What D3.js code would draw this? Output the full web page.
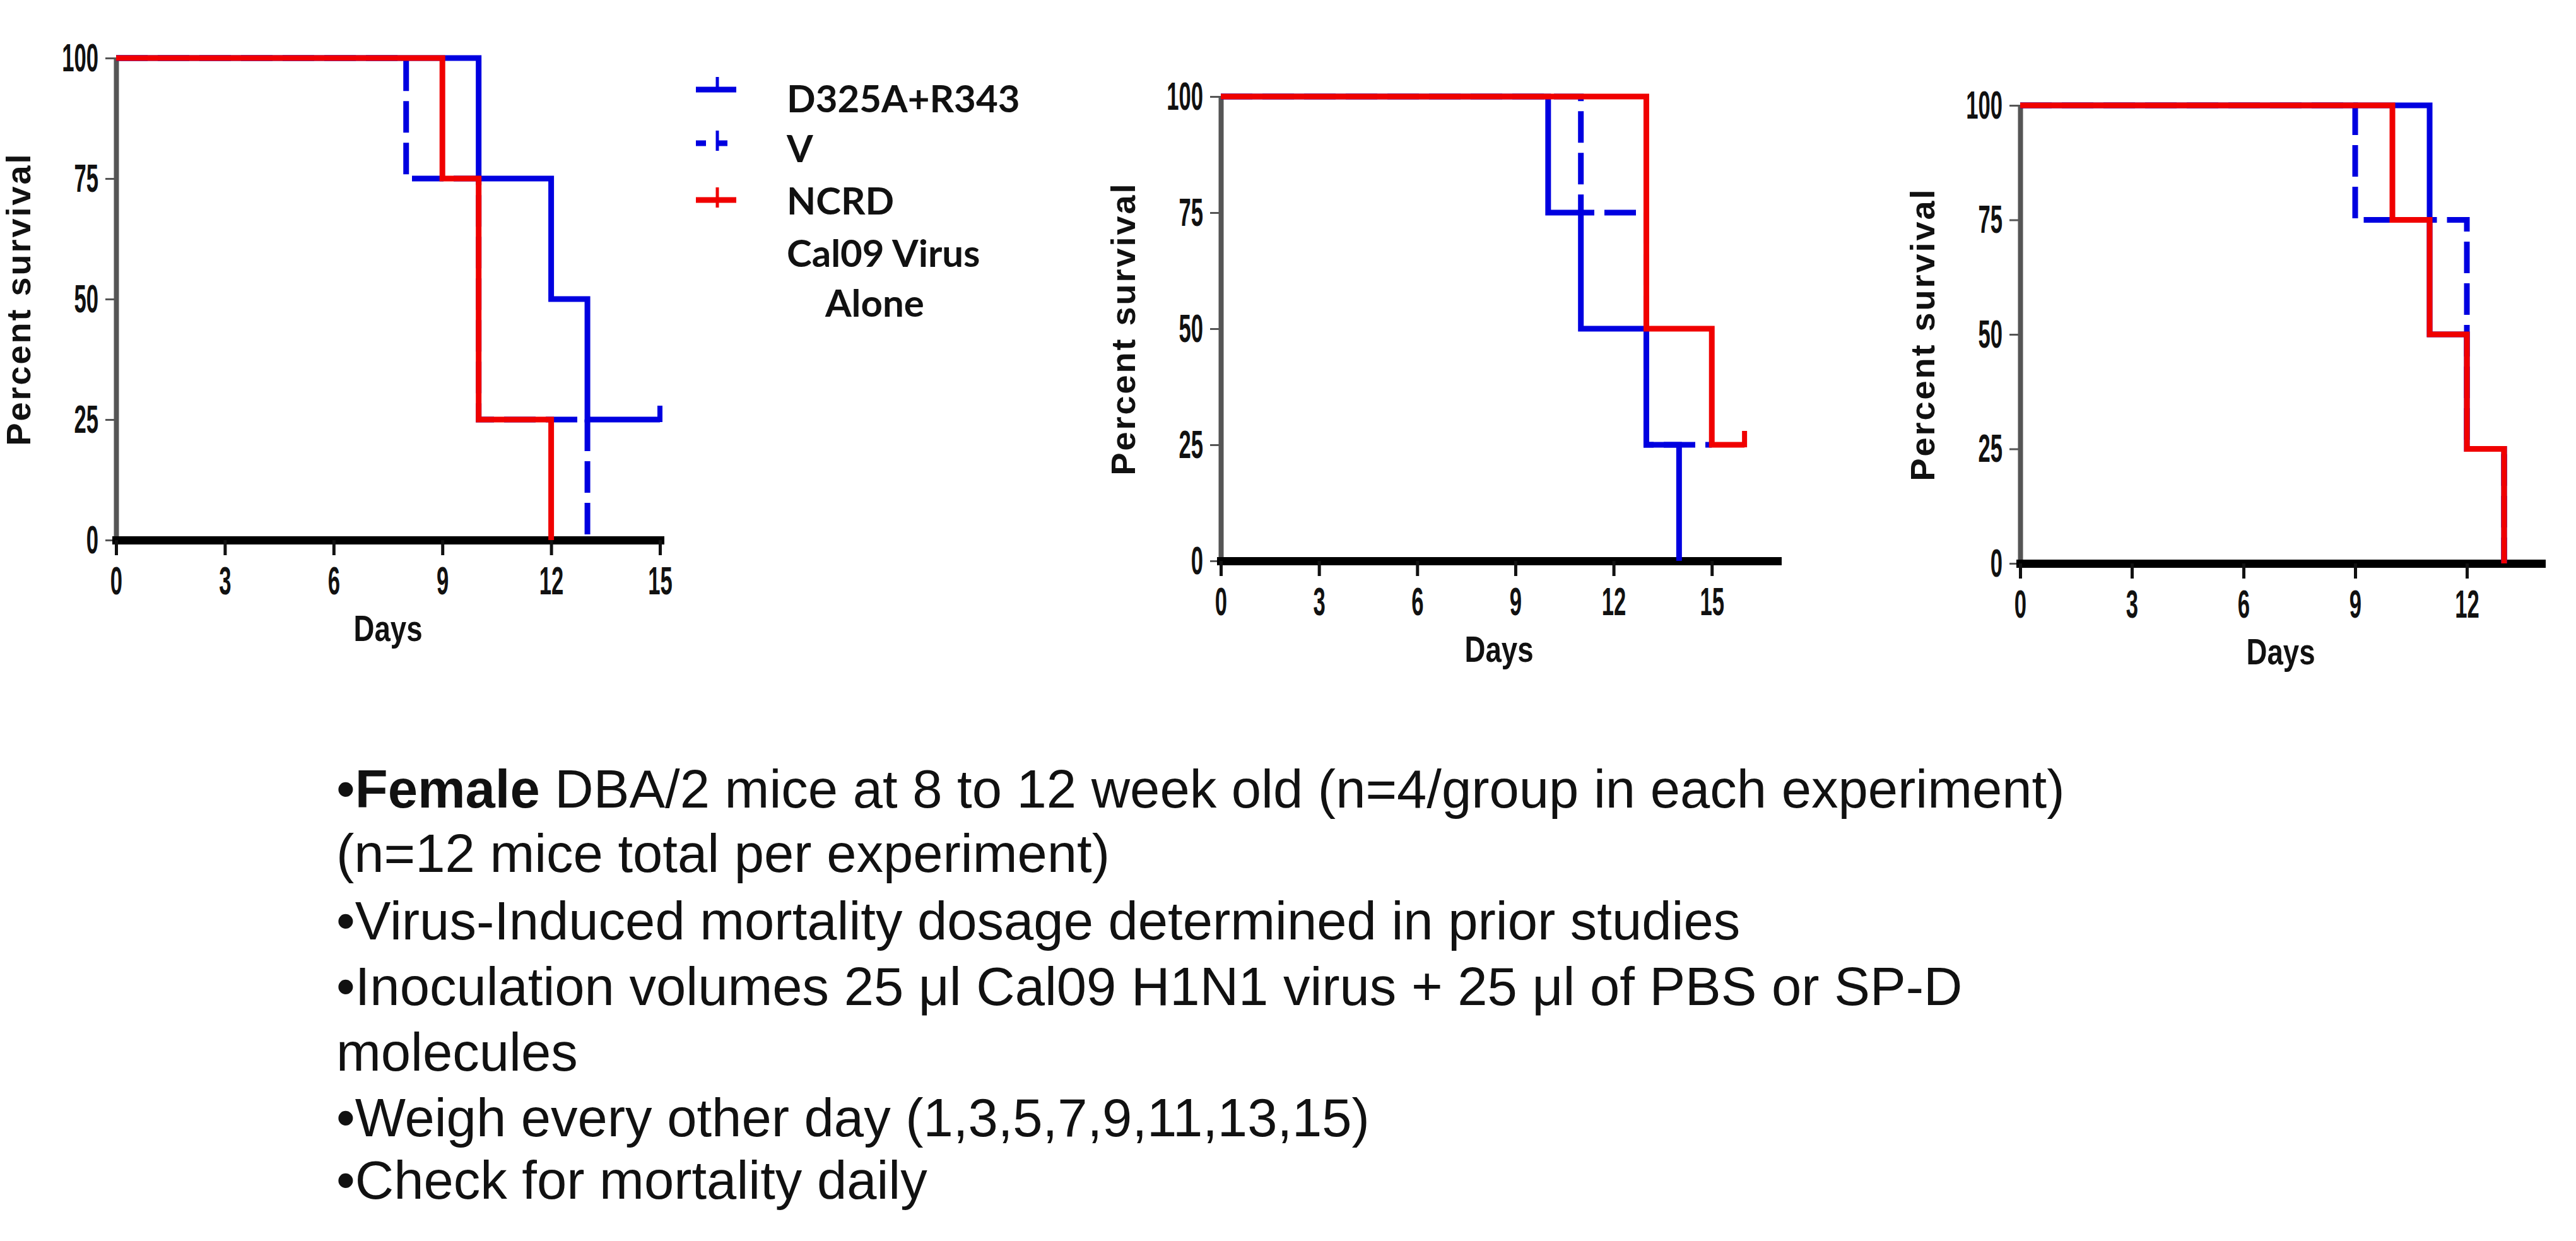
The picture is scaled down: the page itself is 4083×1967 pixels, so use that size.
<!DOCTYPE html>
<html>
<head>
<meta charset="utf-8">
<script src="https://cdn.jsdelivr.net/npm/d3@7"></script>
<style>
  body { margin: 0; background: #fff; }
  svg { display: block; }
  .tick text { font-family: "Liberation Sans", Arial, sans-serif; font-weight: bold; fill: #111; }
</style>
</head>
<body>
<svg id="fig"></svg>
<script>
var width = 4083;
var height = 1967;

// ---- data ----
var seriesNames = ["D325A+R343", "V", "NCRD"];
var percentTicks = [0, 25, 50, 75, 100];

// step points [day, percent survival]
var exp1D325A = [[0,100],[10,75],[12,50],[13,25],[15,25]];
var exp1V     = [[0,100],[8,75],[10,25],[13,0]];
var exp1NCRD  = [[0,100],[9,75],[10,25],[12,0]];
var exp1Censor = [{name: "D325A+R343", day: 15, pct: 25}];
var exp1DayTicks = [0, 3, 6, 9, 12, 15];

var exp2D325A = [[0,100],[10,75],[11,50],[13,25],[14,0]];
var exp2V     = [[0,100],[11,75],[13,25],[15,25]];
var exp2NCRD  = [[0,100],[13,50],[15,25],[16,25]];
var exp2Censor = [{name: "NCRD", day: 16, pct: 25}];
var exp2DayTicks = [0, 3, 6, 9, 12, 15];

var exp3D325A = [[0,100],[11,50],[12,25],[13,0]];
var exp3V     = [[0,100],[9,75],[12,25],[13,0]];
var exp3NCRD  = [[0,100],[10,75],[11,50],[12,25],[13,0]];
var exp3Censor = [];
var exp3DayTicks = [0, 3, 6, 9, 12];

var legendLabels = ["D325A+R343", "V", "NCRD", "Cal09 Virus", "Alone"];

var noteLines = [
  "•Female DBA/2 mice at 8 to 12 week old (n=4/group in each experiment)",
  "(n=12 mice total per experiment)",
  "•Virus-Induced mortality dosage determined in prior studies",
  "•Inoculation volumes 25 μl Cal09 H1N1 virus + 25 μl of PBS or SP-D",
  "molecules",
  "•Weigh every other day (1,3,5,7,9,11,13,15)",
  "•Check for mortality daily"
];

// ---- styles / layout ----
var color = d3.scaleOrdinal().domain(seriesNames).range(["#0000e0", "#0000e0", "#f00000"]);
var dash = {"D325A+R343": null, "V": "50,16", "NCRD": null};

var panels = [
  {left: 184,  right: 1046, top: 92,  bottom: 856, xMax: 15, ticks: exp1DayTicks,
   series: {"V": exp1V, "D325A+R343": exp1D325A, "NCRD": exp1NCRD}, censor: exp1Censor},
  {left: 1935, right: 2817, top: 153, bottom: 889, xMax: 17, ticks: exp2DayTicks,
   series: {"V": exp2V, "D325A+R343": exp2D325A, "NCRD": exp2NCRD}, censor: exp2Censor},
  {left: 3202, right: 4028, top: 167, bottom: 893, xMax: 14, ticks: exp3DayTicks,
   series: {"V": exp3V, "D325A+R343": exp3D325A, "NCRD": exp3NCRD}, censor: exp3Censor}
];

var svg = d3.select("#fig")
    .attr("width", width)
    .attr("height", height);

svg.append("rect").attr("width", width).attr("height", height).attr("fill", "white");

var squeeze = 0.55;   // the old Prism tick labels are very narrow

panels.forEach(function(p) {
    var x = d3.scaleLinear().domain([0, p.xMax]).range([p.left, p.right]);
    var y = d3.scaleLinear().domain([0, 100]).range([p.bottom, p.top]);
    var g = svg.append("g");

    // y axis
    var yAxis = g.append("g")
        .attr("transform", "translate(" + p.left + ",0)")
        .call(d3.axisLeft(y).tickValues(percentTicks).tickSize(17).tickSizeOuter(0).tickPadding(11));
    yAxis.select(".domain").attr("stroke", "#555").attr("stroke-width", 8);
    yAxis.selectAll(".tick line").attr("stroke", "#555").attr("stroke-width", 3);
    yAxis.selectAll(".tick text")
        .attr("font-size", 63)
        .attr("x", -28 / squeeze)
        .attr("transform", "scale(" + squeeze + ",1)");

    // x axis
    var xAxis = g.append("g")
        .attr("transform", "translate(0," + p.bottom + ")")
        .call(d3.axisBottom(x).tickValues(p.ticks).tickSize(24).tickSizeOuter(0).tickPadding(17));
    xAxis.select(".domain").attr("stroke", "#000").attr("stroke-width", 13).attr("stroke-linecap", "square");
    xAxis.selectAll(".tick line").attr("stroke", "#111").attr("stroke-width", 5);
    xAxis.selectAll(".tick text")
        .attr("font-size", 63)
        .attr("transform", "scale(" + squeeze + ",1)");

    // axis titles
    g.append("text")
        .attr("transform", "translate(" + (p.left - 136) + "," + ((p.top + p.bottom) / 2) + ") rotate(-90)")
        .attr("text-anchor", "middle")
        .attr("font-family", "Liberation Sans, Arial, sans-serif")
        .attr("font-weight", "bold")
        .attr("font-size", 54)
        .attr("letter-spacing", 3)
        .attr("fill", "#111")
        .text("Percent survival");

    g.append("text")
        .attr("transform", "translate(" + ((p.left + p.right) / 2) + "," + (p.bottom + 160) + ") scale(0.8,1)")
        .attr("text-anchor", "middle")
        .attr("font-family", "Liberation Sans, Arial, sans-serif")
        .attr("font-weight", "bold")
        .attr("font-size", 57)
        .attr("fill", "#111")
        .text("Days");

    // survival steps
    var line = d3.line()
        .x(function(d) { return x(d[0]); })
        .y(function(d) { return y(d[1]); })
        .curve(d3.curveStepAfter);

    ["V", "D325A+R343", "NCRD"].forEach(function(name) {
        g.append("path")
            .datum(p.series[name])
            .attr("d", line)
            .attr("fill", "none")
            .attr("stroke", color(name))
            .attr("stroke-width", 9)
            .attr("stroke-dasharray", dash[name]);
    });

    // censor ticks
    g.selectAll(".censor")
        .data(p.censor)
        .enter().append("line")
        .attr("x1", function(d) { return x(d.day); })
        .attr("x2", function(d) { return x(d.day); })
        .attr("y1", function(d) { return y(d.pct) - 22; })
        .attr("y2", function(d) { return y(d.pct) + 4; })
        .attr("stroke", function(d) { return color(d.name); })
        .attr("stroke-width", 8);
});

// ---- legend ----
var legend = svg.append("g");
var legendRows = [142, 227, 317];
seriesNames.forEach(function(name, i) {
    var cy = legendRows[i];
    legend.append("line")
        .attr("x1", 1103).attr("x2", 1167)
        .attr("y1", cy).attr("y2", cy)
        .attr("stroke", color(name))
        .attr("stroke-width", 9)
        .attr("stroke-dasharray", name === "V" ? "16,18" : null);
    legend.append("line")
        .attr("x1", 1137).attr("x2", 1137)
        .attr("y1", cy - 20).attr("y2", i === 0 ? cy : cy + 12)
        .attr("stroke", color(name))
        .attr("stroke-width", 5);
});

var legendBaselines = [178, 257, 340, 423, 502];
legend.selectAll(".lab")
    .data(legendLabels)
    .enter().append("text")
    .attr("x", function(d, i) { return i === 4 ? 1308 : 1247; })
    .attr("y", function(d, i) { return legendBaselines[i]; })
    .attr("font-family", "Lato, 'Open Sans', sans-serif")
    .attr("font-weight", "bold")
    .attr("font-size", 60)
    .attr("fill", "#111")
    .text(function(d) { return d; });

// ---- notes ----
var noteBaselines = [1280, 1382, 1489, 1593, 1697, 1801, 1900];
var notes = svg.append("g")
    .attr("font-family", "Liberation Sans, Arial, sans-serif")
    .attr("font-size", 85)
    .attr("fill", "#111");

noteLines.forEach(function(txt, i) {
    var t = notes.append("text").attr("x", 533).attr("y", noteBaselines[i]);
    if (i === 0) {
        t.append("tspan").text("•");
        t.append("tspan").attr("font-weight", "bold").text("Female");
        t.append("tspan").text(txt.slice("•Female".length));
    } else {
        t.text(txt);
    }
});
</script>
</body>
</html>
